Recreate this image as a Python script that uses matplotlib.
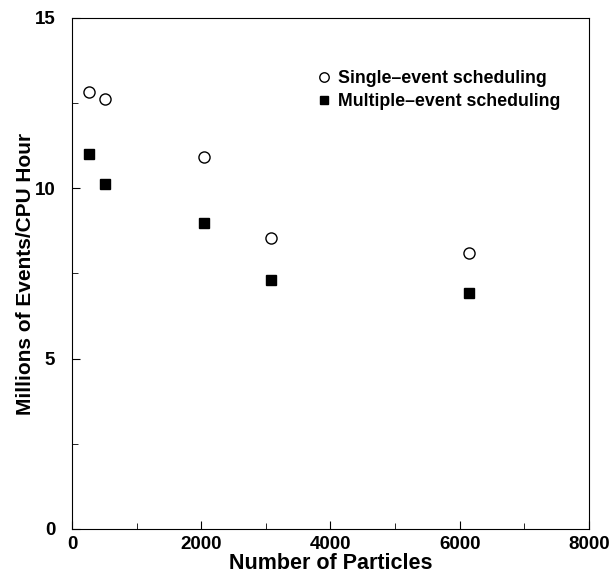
#!/usr/bin/env python3

import matplotlib
matplotlib.use( 'Agg' )
import matplotlib.pyplot as plt
from matplotlib.ticker import MultipleLocator

# number of particles and throughput (millions of events per CPU hour)
particles = [ 256, 512, 2048, 3072, 6144 ]
single_event = [ 12.82, 12.62, 10.91, 8.54, 8.11 ]
multiple_event = [ 11.0, 10.12, 8.99, 7.31, 6.92 ]

plt.rcParams['font.family'] = [ 'Liberation Sans', 'DejaVu Sans' ]
plt.rcParams['font.weight'] = 'bold'

fig = plt.figure( figsize = ( 6.11, 5.76 ), dpi = 100 )
ax = fig.add_axes( [ 0.1178, 0.0816, 0.8462, 0.8872 ] )

ax.plot( particles, single_event, 'o', markerfacecolor = 'white', markeredgecolor = 'black',
         markersize = 8, markeredgewidth = 1.0, label = 'Single\u2013event scheduling' )
ax.plot( particles, multiple_event, 's', color = 'black', markersize = 6.5,
         label = 'Multiple\u2013event scheduling' )

ax.set_xlim( 0, 8000 )
ax.set_ylim( 0, 15 )
ax.xaxis.set_major_locator( MultipleLocator( 2000 ) )
ax.xaxis.set_minor_locator( MultipleLocator( 1000 ) )
ax.yaxis.set_major_locator( MultipleLocator( 5 ) )
ax.yaxis.set_minor_locator( MultipleLocator( 2.5 ) )
ax.tick_params( which = 'both', direction = 'in', labelsize = 13.5 )
ax.tick_params( axis = 'x', which = 'major', length = 6, pad = 5 )
ax.tick_params( axis = 'y', which = 'major', length = 6, pad = 12 )
ax.tick_params( which = 'minor', length = 4 )
for lab in ax.get_xticklabels() + ax.get_yticklabels():
    lab.set_fontweight( 'bold' )

ax.set_xlabel( 'Number of Particles', fontsize = 15.5, fontweight = 'bold', labelpad = 0 )
ax.set_ylabel( 'Millions of Events/CPU Hour', fontsize = 15, fontweight = 'bold', labelpad = 0 )

leg = ax.legend( loc = 'upper left', bbox_to_anchor = ( 317 / 611, 1 - 70 / 576 ),
                 bbox_transform = fig.transFigure, frameon = False, borderpad = 0,
                 borderaxespad = 0, fontsize = 12.8, handletextpad = 0.4, handlelength = 0.8,
                 labelspacing = 0.35, markerscale = 0.85 )
for t in leg.get_texts():
    t.set_fontweight( 'bold' )

fig.savefig( 'out.png', dpi = 100 )
